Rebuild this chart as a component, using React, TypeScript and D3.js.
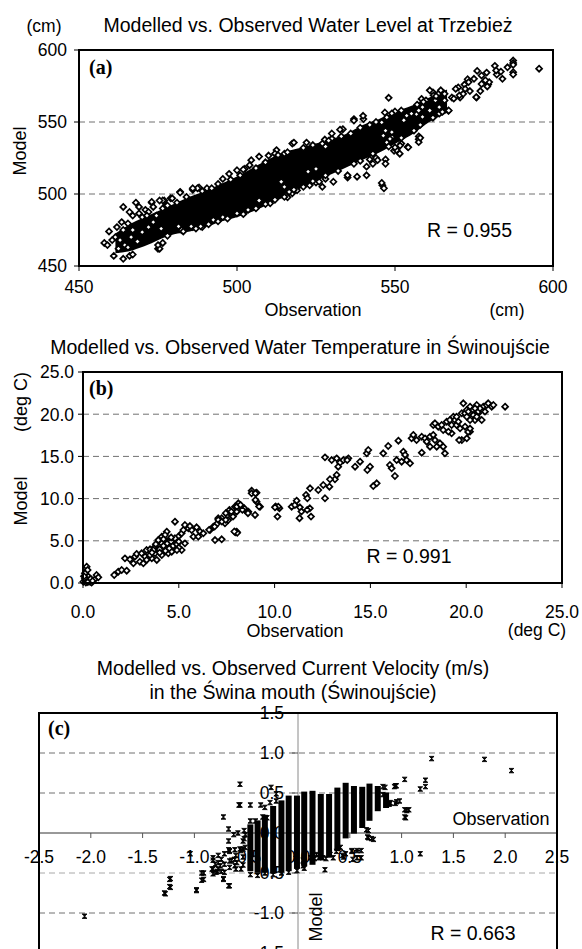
import React from 'react';
import * as d3 from 'd3';

// ---------- Panel (a): water level (cm) ----------
const levelTicks = [450, 500, 550, 600];
const levelGrid = [500, 550];
// dense core of overlapping markers: [observation, model low, model high]
const levelCore: [number, number, number][] = [
  [462, 460, 472], [467, 462, 479], [472, 466, 484], [476, 470, 488], [480, 473, 492],
  [485, 475, 497], [490, 478, 501], [495, 482, 506], [500, 485, 511], [505, 489, 517],
  [510, 494, 523], [515, 499, 528], [520, 505, 531], [525, 510, 534], [530, 515, 537],
  [535, 520, 541], [540, 525, 547], [545, 530, 551], [550, 536, 556], [555, 542, 560],
  [560, 550, 565], [566, 557, 571],
];
const levelPoints: [number, number][] = [
  [464, 491], [458, 466], [459, 464.5], [461, 457], [464, 455], [466, 457], [467, 458], [475, 462], [476.5, 466],
  [473, 494], [476.5, 490], [477.5, 492], [479, 497], [477, 495.5], [482, 501.5], [468, 494], [469, 491], [471, 489],
  [472, 487.5], [486, 503], [488, 504.5], [459.5, 474], [462, 477], [463.5, 480.5], [476, 476], [473.5, 480.5],
  [472, 477], [482, 475.5], [486, 477], [489, 477], [470, 484], [471.5, 485], [474.5, 485], [461.5, 470], [463, 468],
  [464.5, 464.5], [465.5, 463], [462.5, 462], [460.5, 468], [466.5, 470], [468.5, 467], [467, 475], [470, 473.5],
  [464, 475], [465.5, 479.5], [467, 485], [466, 487.5], [469, 486.5],
  [540, 552], [537, 552], [533, 539.5], [530, 538.5], [528, 533], [527, 535], [517.5, 535], [512.5, 530.5], [515, 528],
  [507, 526], [504.5, 523.5], [502.5, 517.5], [500, 516.5], [495.5, 510.5], [497.5, 514], [490.5, 504], [487.5, 504],
  [486, 504], [482, 501], [479.5, 497], [476.5, 495.5], [475.5, 495.5], [473, 494.5], [473.5, 491],
  [539.9, 554.3], [537, 551], [533.5, 545], [532.6, 544.7], [530, 542], [527.8, 537.8], [518, 535.7], [522, 535.7],
  [512, 528], [510, 526.7], [502, 517], [504, 520],
  [475.5, 462], [475, 464.5], [482.5, 475], [481.5, 477.5], [485.5, 477.5], [488.5, 477.5], [492.5, 482], [495.5, 484],
  [500, 486.5], [503.5, 489], [507, 495.5], [510.5, 493.5], [515.5, 499], [517.5, 500.5],
  [546, 506], [546.5, 504], [545.8, 507.7], [527, 505], [525, 508], [523, 506], [535, 511.5], [538, 512], [541, 513],
  [547, 524], [549.7, 530], [542, 524], [544, 525], [519, 502.5], [516, 497.7],
  [557.5, 540], [557.5, 538], [557.5, 536], [558, 539], [552, 535], [554, 532.7], [550.5, 530.5], [551.5, 528],
  [544.5, 523.5], [547, 521], [543, 521], [541, 519], [535, 513], [530.5, 508.5], [528, 510.5], [526, 508.5],
  [525, 517.5], [522.5, 515.5], [515, 498], [516.5, 501.5], [515, 505], [514, 508.5], [549, 539.5], [547, 544], [549, 543],
  [551.6, 533.6], [554.2, 532.4], [546.3, 540.5], [550, 532.4], [547.4, 535.9], [548.4, 538.3],
  [548, 566.8], [546.8, 556.6], [550, 557.3], [547.4, 553.2], [545.8, 549.7], [566.9, 557.8], [575.8, 567], [570, 574],
  [573, 579.7], [576, 585.5], [579, 584.3], [581.6, 589], [582.2, 583], [579.5, 576], [577, 571.5], [573.7, 571.5],
  [572, 576], [568, 567], [570.6, 567], [565.3, 564.7], [562, 570.6], [563.7, 569.5], [553.7, 554.4], [556.8, 555.5],
  [558.4, 566], [583.5, 585], [587.4, 592.7], [587.4, 591], [587.4, 589.7], [587.4, 584.6], [587.4, 583], [584, 580],
  [579.8, 577.7], [579.2, 574.7], [577.4, 582.3], [575, 580], [575.7, 567.3], [573.3, 577.7], [572.2, 573],
  [568.6, 566.2], [570.4, 568.5], [567, 558], [565.7, 565], [564, 560.4], [595.6, 587], [582, 585.8], [585.6, 588],
  [577.4, 576.4], [578.6, 579], [569.2, 573], [571.6, 569.6], [561, 572], [562.2, 568.5], [562.8, 565], [559.8, 565],
  [558.7, 560.4], [561, 558], [564, 555.8], [564.5, 572], [565.7, 569.6], [555.2, 555.8], [552.8, 551.2],
  [557.5, 558], [558.7, 553.5],
  // band upper edge
  [478, 492], [481, 494], [484, 498], [489, 502], [492, 504], [494, 507], [498, 510], [501, 513], [506, 518],
  [509, 522], [513, 527], [516, 529], [521, 532], [524, 534], [529, 537], [533, 540], [536, 542], [539, 546],
  [542, 548], [544, 550], [549, 556], [552, 558], [557, 562], [559, 564], [563, 568],
  // band lower edge
  [478, 471], [483, 474], [487, 476], [491, 479], [494, 481], [497, 483], [502, 486], [506, 490], [509, 493],
  [512, 496], [518, 503], [521, 505], [524, 509], [528, 513], [532, 516], [537, 521], [539, 523], [543, 528],
  [548, 533], [552, 539], [556, 544], [558, 548], [562, 553], [565, 557],
];

// ---------- Panel (b): water temperature (deg C) ----------
const tempTicks = [0, 5, 10, 15, 20, 25];
const tempGrid = [5, 10, 15, 20];
const tempPoints: [number, number][] = [
  [0.19, 1.93], [0.24, 1.54], [0.1, 1.15], [0.28, 0.75], [0.19, 0.36], [0.37, 0.15], [0.71, 0.95], [0.8, 0.67],
  [0.02, 0.15], [0.45, 0.04], [0.1, 0.5], [0.3, 0.3], [0.05, 0.8], [0.4, 0.5], [0.6, 0.4], [0.15, 0.05], [0.25, 0.1],
  [0.5, 0.25], [1.63, 0.95], [1.84, 1.34], [2.02, 1.54], [2.28, 1.46],
  [2.19, 2.92], [2.45, 2.8], [2.71, 3.12], [2.8, 3.44], [2.63, 2.33], [2.97, 2.52], [3.06, 3.52], [3.24, 3.12],
  [3.32, 3.91], [3.5, 3.99], [3.76, 4.3], [4.02, 4.5], [4.11, 5.49], [4.37, 6.08], [4.28, 5.09], [4.54, 5.09],
  [4.8, 7.26], [4.97, 5.49], [5.15, 5.89], [5.32, 6.87], [5.24, 6.28], [5.5, 6.48], [5.67, 6.28], [5.76, 5.49],
  [5.32, 4.7], [5.15, 3.91], [3.76, 3.52], [3.93, 3.91], [4.19, 4.11], [4.37, 4.5], [4.54, 4.3], [4.71, 4.7],
  [4.8, 4.3], [4.11, 3.32], [4.45, 3.52], [3.59, 2.92], [3.85, 2.73], [4.63, 3.71], [4.89, 5.09], [4.45, 4.9],
  [4.11, 4.7], [3.93, 5.09], [4.28, 5.69], [3.67, 3.91], [3.5, 3.32], [3.32, 2.73], [3.15, 2.33],
  [4.0, 4.0], [4.2, 4.4], [4.4, 4.7], [4.6, 4.9], [4.7, 4.4], [4.9, 4.6], [4.5, 4.1], [4.3, 3.8], [4.8, 5.3],
  [5.0, 4.9], [4.6, 5.4], [4.2, 5.2], [3.8, 4.6], [3.6, 3.6], [4.0, 3.6], [5.0, 4.2], [4.9, 3.9],
  [6.11, 6.08], [6.28, 5.89], [5.93, 6.6], [5.58, 6.75], [6.02, 5.49],
  [6.63, 6.28], [6.8, 6.67], [6.98, 6.99], [7.24, 7.67], [7.41, 7.07], [7.58, 7.46], [7.76, 8.06], [8.02, 8.45],
  [7.93, 9.04], [8.11, 9.44], [8.28, 8.85], [8.46, 8.65], [8.63, 8.45], [8.8, 10.94], [9.06, 10.7], [9.06, 9.63],
  [9.24, 9.04], [8.98, 8.06], [7.06, 7.67], [6.89, 5.09], [7.24, 5.18], [8.02, 6.08], [7.95, 6.0], [8.05, 5.95],
  [7.9, 6.1], [6.58, 6.3], [6.87, 6.69], [7.06, 7.48], [7.25, 7.28], [7.45, 7.48], [7.45, 8.27], [7.64, 8.66],
  [7.74, 8.46], [8.03, 9.06], [8.22, 9.25], [8.41, 8.86], [8.61, 8.27], [8.32, 8.66], [7.83, 7.87],
  [8.8, 10.63], [9.0, 9.84], [9.19, 9.06], [10.06, 9.06], [10.15, 7.87], [10.25, 8.86], [9.0, 10.63],
  [10.19, 9.04], [10.02, 8.97], [10.89, 9.04], [11.06, 9.24], [11.32, 8.97], [11.84, 8.85], [11.3, 7.68],
  [11.9, 7.87], [11.4, 8.46], [11.7, 8.66],
  [11.15, 9.75], [11.64, 10.43], [11.71, 10.04], [11.85, 11.22], [12.28, 11.02], [12.54, 11.61], [12.63, 10.04],
  [12.86, 11.41], [13.15, 12.29], [12.89, 12.29], [13.24, 12.8], [12.63, 14.89], [12.98, 14.57], [13.24, 14.77],
  [13.41, 14.25], [13.32, 13.78], [13.59, 14.57], [13.85, 14.77], [13.79, 14.57],
  [14.2, 13.78], [14.46, 14.37], [14.81, 15.37], [14.89, 15.76], [14.98, 13.78], [14.84, 13.39], [15.67, 15.37],
  [15.93, 16.23], [16.46, 16.86], [16.37, 14.57], [16.02, 13.98], [16.11, 13.59], [16.28, 12.68], [16.72, 15.56],
  [16.81, 15.17], [16.63, 14.37], [16.89, 14.57], [17.07, 14.18], [17.68, 15.44], [15.33, 11.81], [15.15, 11.49],
  [17.15, 17.14], [17.24, 17.54], [17.41, 16.94], [17.68, 17.33], [17.85, 17.14], [17.94, 16.74], [18.11, 17.33],
  [18.28, 17.54], [18.28, 18.72], [18.37, 18.92], [18.54, 18.52], [18.72, 18.72], [18.8, 18.13], [18.98, 19.11],
  [19.15, 19.31], [19.24, 18.72], [19.33, 19.7], [19.42, 19.31], [19.5, 18.72], [19.68, 18.33], [19.77, 20.11],
  [19.85, 21.29], [19.94, 20.11], [20.03, 20.5], [20.2, 20.89], [20.29, 19.7], [20.37, 20.5], [20.55, 21.09],
  [20.63, 20.11], [20.81, 19.31], [20.89, 20.89], [21.07, 21.09], [21.15, 21.29], [21.33, 20.89], [21.42, 21.09],
  [22.03, 20.89], [18.8, 16.15], [18.89, 15.37], [18.63, 16.55], [18.37, 16.94], [18.46, 16.15], [19.77, 16.94],
  [20.03, 17.14], [20.2, 17.93], [19.94, 18.52], [19.24, 17.74], [18.11, 16.15], [19.07, 17.93], [19.5, 19.7],
  [19.59, 19.11], [20.46, 19.31], [20.63, 20.3], [20.98, 20.3], [20.11, 20.3], [20.37, 19.9], [20.55, 19.7],
  [20.72, 20.7], [20.2, 19.31], [20.46, 20.7], [20.03, 19.7], [19.63, 16.93], [20.1, 17.9], [20.2, 18.3],
];

// ---------- Panel (c): current velocity (m/s) ----------
const velXTicks = [-2.5, -2, -1.5, -1, -0.5, 0, 0.5, 1, 1.5, 2, 2.5];
const velYTicks = [-1.5, -1, -0.5, 0, 0.5, 1, 1.5];
const velGrid = [-1, -0.5, 0.5, 1];
// stacked observation columns: [observation, model low, model high]
const velColumns: [number, number, number][] = [
  [-0.46, -0.45, 0.08], [-0.39, -0.47, 0.13], [-0.32, -0.47, 0.2], [-0.24, -0.48, 0.31], [-0.16, -0.47, 0.38],
  [-0.09, -0.45, 0.44], [-0.01, -0.42, 0.44], [0.06, -0.39, 0.49], [0.14, -0.37, 0.5], [0.22, -0.31, 0.46],
  [0.30, -0.28, 0.46], [0.38, -0.2, 0.54], [0.46, -0.04, 0.6], [0.54, 0.02, 0.56], [0.62, 0.09, 0.55],
  [0.69, 0.18, 0.59], [0.77, 0.3, 0.56], [0.85, 0.34, 0.48],
];
const velPoints: [number, number][] = [
  [-2.06, -1.04], [1.29, 0.93], [1.8, 0.92], [2.06, 0.78], [1.03, 0.67], [1.23, 0.66], [1.23, 0.58], [1.18, 0.55],
  [0.93, 0.58], [0.82, 0.58], [1.03, 0.29], [1.07, 0.29], [1.03, 0.2], [0.95, 0.39], [0.89, 0.37], [0.98, 0.4],
  [0.66, 0.04], [0.67, -0.05], [0.71, -0.07], [1.18, -0.26], [0.61, -0.22], [0.57, -0.31], [0.61, -0.31], [0.26, -0.46],
  [-0.56, 0.61], [-0.56, 0.35], [-0.46, 0.35], [-0.36, 0.35], [-0.26, 0.57], [-0.21, 0.49], [-0.72, 0.2], [-0.67, 0.05],
  [-0.67, -0.1], [-0.67, -0.21], [-1.04, -0.26], [-0.93, -0.5], [-0.93, -0.59], [-1.23, -0.57], [-1.23, -0.68],
  [-1.29, -0.75], [-0.98, -0.71], [-0.72, -0.57], [-0.67, -0.66], [-0.82, -0.45], [-0.79, -0.49], [-0.77, -0.45],
  [-0.82, -0.51], [-0.71, -0.49], [-0.66, -0.43], [-0.61, -0.41], [-0.55, -0.45], [-0.77, -0.28], [-0.71, -0.26],
  [-0.66, -0.22], [-0.61, -0.21], [-0.55, -0.22], [-0.82, -0.34], [-0.77, -0.37], [-0.64, -0.34], [-0.59, -0.37],
  [-0.52, 0.03], [-0.52, -0.07], [-0.46, 0.15], [-0.41, 0.15], [-0.34, 0.2], [-0.32, 0.32], [-0.27, 0.38], [-0.21, 0.4],
  [0.27, -0.32], [0.34, -0.31], [0.43, -0.28], [0.46, -0.26], [0.52, -0.22], [0.57, -0.22], [-0.02, -0.32],
  [0.05, -0.34], [0.16, -0.32], [0.2, -0.31], [0.94, 0.59], [0.88, 0.36], [0.94, 0.37], [1.05, 0.28],
  [1.04, 0.19], [0.68, 0.03], [0.68, -0.06], [0.73, -0.08], [-0.57, 0.35], [-0.66, -0.23], [-0.56, -0.2],
  [-0.82, -0.31], [-0.74, -0.33], [-0.8, -0.39], [-0.75, -0.41], [-0.71, -0.39], [-0.66, -0.35], [-0.61, -0.33],
  [-0.91, -0.5], [-0.91, -0.58], [-0.83, -0.45], [-0.78, -0.48], [-0.74, -0.48], [-0.72, -0.58], [-0.66, -0.66],
  [-1.28, -0.76], [-1.24, -0.67], [-1.24, -0.58], [-0.98, -0.72], [-0.62, -0.02], [-0.58, 0.0], [-0.51, -0.02],
  [-0.3, 0.19], [-0.46, -0.14], [-0.51, -0.18], [0.53, -0.33], [0.52, -0.23], [0.41, -0.18], [0.89, 0.38],
  [0.95, 0.59], [0.84, 0.57], [0.82, 0.48], [0.05, -0.41], [0.12, -0.31], [0.18, -0.27], [0.24, -0.31], [0.31, -0.27],
  [0.37, -0.23], [0.44, -0.3], [-0.53, -0.1], [-0.53, -0.2], [-0.53, -0.3], [-0.53, -0.4], [-0.6, -0.28],
  [-0.6, -0.45], [-0.46, -0.52], [-0.39, -0.53], [-0.32, -0.5], [-0.24, -0.52], [-0.16, -0.5], [-0.09, -0.49],
  [-0.01, -0.47], [0.06, -0.44],
];

const SANS = "'Liberation Sans', Arial, Helvetica, sans-serif";
const SERIF = "'Liberation Serif', 'Times New Roman', serif";
const DIAMOND = 'M0,-3L3,0L0,3L-3,0Z';
const BOWTIE = 'M-2.4,-2.2H2.4L-2.4,2.2H2.4Z';
const GRID = '#707070';

const fmt1 = (v: number) => v.toFixed(1);

export default function App() {
  // panel a scales
  const xa = d3.scaleLinear().domain([450, 600]).range([79, 553]);
  const ya = d3.scaleLinear().domain([450, 600]).range([266, 50]);
  // panel b scales
  const xb = d3.scaleLinear().domain([0, 25]).range([83, 562]);
  const yb = d3.scaleLinear().domain([0, 25]).range([583, 372]);
  // panel c scales
  const xc = d3.scaleLinear().domain([-2.5, 2.5]).range([39, 557]);
  const yc = d3.scaleLinear().domain([-1.5, 1.5]).range([953, 713]);

  const coreArea = d3
    .area<[number, number, number]>()
    .x((d) => xa(d[0]))
    .y0((d) => ya(d[1]))
    .y1((d) => ya(d[2]))
    .curve(d3.curveMonotoneX);

  return (
    <svg
      width={582}
      height={949}
      style={{ position: 'absolute', left: 0, top: 0, background: '#fff' }}
      fontFamily={SANS}
    >
      <rect x={0} y={0} width={582} height={949} fill="#fff" />

      {/* ---------------- Panel a ---------------- */}
      <text x={308} y={32} fontSize={19.5} textAnchor="middle">
        Modelled vs. Observed Water Level at Trzebież
      </text>
      <text x={44} y={32} fontSize={17.5} textAnchor="middle">(cm)</text>
      {levelGrid.map((v) => (
        <line key={'ga' + v} x1={xa(450)} x2={xa(600)} y1={ya(v)} y2={ya(v)} stroke={GRID} strokeWidth={1} strokeDasharray="6,4" />
      ))}
      {levelTicks.map((v) => (
        <g key={'ta' + v}>
          <line x1={xa(450) - 5} x2={xa(450)} y1={ya(v)} y2={ya(v)} stroke="#000" />
          <text x={67} y={ya(v) + 6.3} fontSize={17.5} textAnchor="end">{v}</text>
          <line x1={xa(v)} x2={xa(v)} y1={ya(450)} y2={ya(450) + 5} stroke="#000" />
          <text x={xa(v)} y={293} fontSize={17.5} textAnchor="middle">{v}</text>
        </g>
      ))}
      <path d={coreArea(levelCore) || ''} fill="#000" stroke="#000" strokeWidth={3} />
      {levelPoints.map((p, i) => (
        <path key={'pa' + i} d={DIAMOND} transform={`translate(${xa(p[0])},${ya(p[1])})`} fill="#fff" stroke="#000" strokeWidth={1.7} />
      ))}
      <rect x={xa(450)} y={ya(600)} width={xa(600) - xa(450)} height={ya(450) - ya(600)} fill="none" stroke="#000" strokeWidth={2} />
      <text x={89} y={74} fontFamily={SERIF} fontWeight="bold" fontSize={20}>(a)</text>
      <text x={469.5} y={237} fontSize={19.5} textAnchor="middle">R = 0.955</text>
      <text transform="translate(26,151) rotate(-90)" fontSize={18} textAnchor="middle">Model</text>
      <text x={313} y={316} fontSize={18} textAnchor="middle">Observation</text>
      <text x={507} y={316} fontSize={17.5} textAnchor="middle">(cm)</text>

      {/* ---------------- Panel b ---------------- */}
      <text x={300} y={354} fontSize={19.5} textAnchor="middle">
        Modelled vs. Observed Water Temperature in Świnoujście
      </text>
      {tempGrid.map((v) => (
        <line key={'gb' + v} x1={xb(0)} x2={xb(25)} y1={yb(v)} y2={yb(v)} stroke={GRID} strokeWidth={1} strokeDasharray="6,4" />
      ))}
      {tempTicks.map((v) => (
        <g key={'tb' + v}>
          <line x1={xb(0) - 5} x2={xb(0)} y1={yb(v)} y2={yb(v)} stroke="#000" />
          <text x={74} y={yb(v) + 6.3} fontSize={17.5} textAnchor="end">{fmt1(v)}</text>
          <line x1={xb(v)} x2={xb(v)} y1={yb(0)} y2={yb(0) + 5} stroke="#000" />
          <text x={xb(v)} y={618} fontSize={17.5} textAnchor="middle">{fmt1(v)}</text>
        </g>
      ))}
      {tempPoints.map((p, i) => (
        <path key={'pb' + i} d={DIAMOND} transform={`translate(${xb(p[0])},${yb(p[1])})`} fill="#fff" stroke="#000" strokeWidth={1.7} />
      ))}
      <rect x={xb(0)} y={yb(25)} width={xb(25) - xb(0)} height={yb(0) - yb(25)} fill="none" stroke="#000" strokeWidth={2} />
      <text x={89} y={395} fontFamily={SERIF} fontWeight="bold" fontSize={20}>(b)</text>
      <text x={409} y={563} fontSize={19.5} textAnchor="middle">R = 0.991</text>
      <text transform="translate(27,402) rotate(-90)" fontSize={18} textAnchor="middle">(deg C)</text>
      <text transform="translate(27,501) rotate(-90)" fontSize={18} textAnchor="middle">Model</text>
      <text x={295} y={637} fontSize={18} textAnchor="middle">Observation</text>
      <text x={537} y={636} fontSize={17.5} textAnchor="middle">(deg C)</text>

      {/* ---------------- Panel c ---------------- */}
      <text x={293} y={675} fontSize={19.5} textAnchor="middle">
        Modelled vs. Observed Current Velocity (m/s)
      </text>
      <text x={293} y={699} fontSize={19.5} textAnchor="middle">
        in the Świna mouth (Świnoujście)
      </text>
      {velGrid.map((v) => (
        <line key={'gc' + v} x1={xc(-2.5)} x2={xc(2.5)} y1={yc(v)} y2={yc(v)} stroke={v === -0.5 ? '#a8a8a8' : GRID} strokeWidth={1} strokeDasharray="6,4" />
      ))}
      <line x1={xc(0)} x2={xc(0)} y1={yc(1.5)} y2={yc(-1.5)} stroke="#8a8a8a" strokeWidth={1} />
      <line x1={xc(-2.5)} x2={xc(2.5)} y1={yc(0)} y2={yc(0)} stroke="#333" strokeWidth={1} />
      {velXTicks.map((v) => (
        <g key={'tcx' + v}>
          <line x1={xc(v)} x2={xc(v)} y1={yc(0)} y2={yc(0) + 5} stroke="#555" />
          <text x={xc(v)} y={863} fontSize={17.5} textAnchor="middle">{fmt1(v)}</text>
        </g>
      ))}
      {velYTicks.map((v) => (
        <g key={'tcy' + v}>
          <line x1={xc(0) - 6} x2={xc(0)} y1={yc(v)} y2={yc(v)} stroke="#555" />
          <text x={284} y={yc(v) + 6.3} fontSize={17.5} textAnchor="end">{fmt1(v)}</text>
        </g>
      ))}
      {velColumns.map((c, i) => (
        <rect key={'cc' + i} x={xc(c[0]) - 3} width={6} y={yc(c[2]) - 2.2} height={yc(c[1]) - yc(c[2]) + 4.4} fill="#000" />
      ))}
      {velPoints.map((p, i) => (
        <path key={'pc' + i} d={BOWTIE} transform={`translate(${xc(p[0])},${yc(p[1])})`} fill="#000" stroke="#000" strokeWidth={0.9} />
      ))}
      <rect x={xc(-2.5)} y={yc(1.5)} width={xc(2.5) - xc(-2.5)} height={yc(-1.5) - yc(1.5)} fill="none" stroke="#000" strokeWidth={2} />
      <text x={48} y={735} fontFamily={SERIF} fontWeight="bold" fontSize={20}>(c)</text>
      <text x={501} y={825} fontSize={18} textAnchor="middle">Observation</text>
      <text transform="translate(322,917) rotate(-90)" fontSize={18} textAnchor="middle">Model</text>
      <text x={473} y={940} fontSize={19.5} textAnchor="middle">R = 0.663</text>
    </svg>
  );
}
